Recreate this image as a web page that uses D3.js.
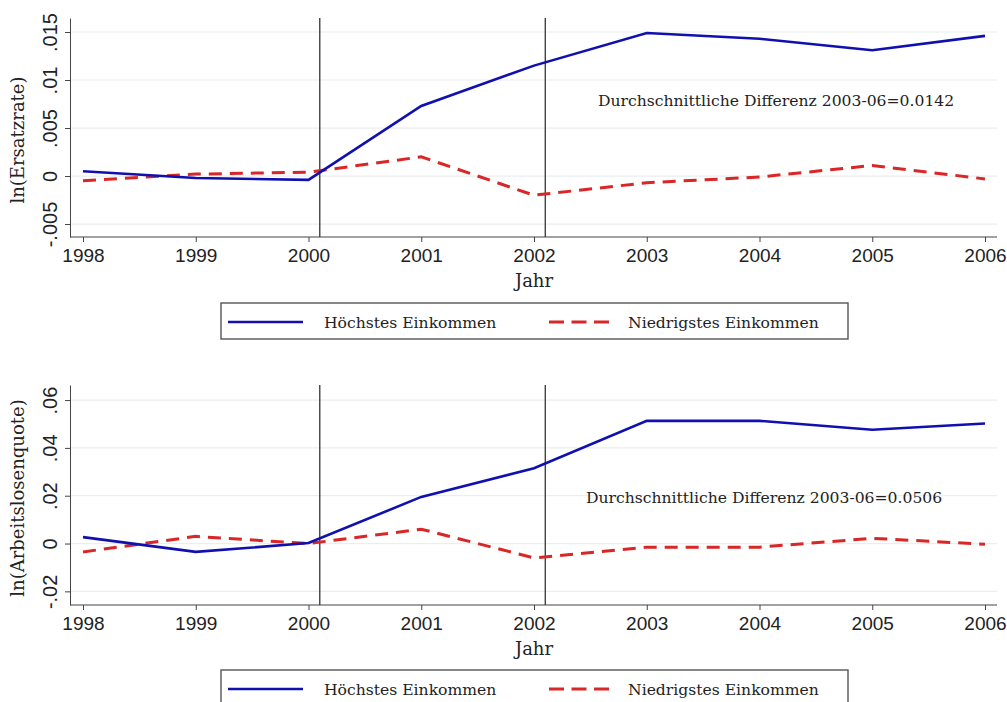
<!DOCTYPE html>
<html>
<head>
<meta charset="utf-8">
<script src="https://cdn.jsdelivr.net/npm/d3@7"></script>
<style>
  body { margin: 0; background: #fff; }
  svg { display: block; }
</style>
</head>
<body>
<div id="chart"></div>
<script>
// Jahre und Werte
let years = [1998, 1999, 2000, 2001, 2002, 2003, 2004, 2005, 2006];

let ersatzHoch = [0.0005, -0.0002, -0.0004, 0.0073, 0.0115, 0.0149, 0.0143, 0.0131, 0.0146];
let ersatzNied = [-0.0005, 0.0002, 0.0004, 0.0020, -0.0020, -0.0007, -0.0001, 0.0011, -0.0003];

let quoteHoch = [0.0027, -0.0035, 0.0002, 0.0195, 0.0315, 0.0513, 0.0513, 0.0476, 0.0502];
let quoteNied = [-0.0035, 0.0030, 0.0000, 0.0060, -0.0060, -0.0015, -0.0015, 0.0022, -0.0003];

let ersatzTicks = [-0.005, 0, 0.005, 0.01, 0.015];
let ersatzTickLabels = ["-.005", "0", ".005", ".01", ".015"];
let quoteTicks = [-0.02, 0, 0.02, 0.04, 0.06];
let quoteTickLabels = ["-.02", "0", ".02", ".04", ".06"];

let reformLines = [2000.1, 2002.1];
let seriesNames = ["Höchstes Einkommen", "Niedrigstes Einkommen"];

let width = 1007;
let height = 702;

let svg = d3.select("#chart")
            .append("svg")
            .attr("width", width)
            .attr("height", height);

let xScale = d3.scaleLinear()
               .domain([1998, 2006])
               .range([83, 985]);

let blue = "#1010b0";
let red = "#d92626";
let serif = "'DejaVu Serif', serif";
let sans = "'Liberation Sans', Arial, sans-serif";

function drawPanel(cfg) {
    let g = svg.append("g");
    let yScale = d3.scaleLinear()
                   .domain(cfg.domain)
                   .range([cfg.bottom, cfg.top]);

    // Gitterlinien
    g.selectAll(".grid")
        .data(cfg.ticks)
        .enter()
        .append("line")
        .attr("x1", 71).attr("x2", 997)
        .attr("y1", d => yScale(d)).attr("y2", d => yScale(d))
        .attr("stroke", "#eaeeee")
        .attr("stroke-width", 1.2);

    // Reformlinien
    g.selectAll(".reform")
        .data(reformLines)
        .enter()
        .append("line")
        .attr("x1", d => xScale(d)).attr("x2", d => xScale(d))
        .attr("y1", cfg.top).attr("y2", cfg.bottom)
        .attr("stroke", "#333")
        .attr("stroke-width", 1.3);

    // Achsen
    let xAxis = d3.axisBottom(xScale)
                  .tickValues(years)
                  .tickFormat(d3.format("d"))
                  .tickSize(5)
                  .tickSizeOuter(0);
    let gx = g.append("g")
              .attr("transform", "translate(0," + cfg.bottom + ")")
              .call(xAxis);
    gx.select(".domain").attr("d", "M70,0H997").attr("stroke", "#444");
    gx.selectAll(".tick line").attr("stroke", "#444");
    gx.selectAll(".tick text")
      .attr("font-family", sans).attr("font-size", 19).attr("fill", "#222").attr("dy", "0.9em");

    let yAxis = d3.axisLeft(yScale)
                  .tickValues(cfg.ticks)
                  .tickFormat((d, i) => cfg.tickLabels[i])
                  .tickSize(5)
                  .tickSizeOuter(0);
    let gy = g.append("g")
              .attr("transform", "translate(70,0)")
              .call(yAxis);
    gy.select(".domain").attr("stroke", "#444");
    gy.selectAll(".tick line").attr("stroke", "#444");
    gy.selectAll(".tick text")
      .attr("font-family", sans).attr("font-size", 20).attr("fill", "#222")
      .attr("x", 0).attr("dy", 0)
      .attr("text-anchor", "middle")
      .attr("transform", "translate(-13,0) rotate(-90)");

    // Linien
    let line = d3.line()
                 .x((d, i) => xScale(years[i]))
                 .y(d => yScale(d));

    g.append("path")
        .datum(cfg.nied)
        .attr("d", line)
        .attr("fill", "none")
        .attr("stroke", red)
        .attr("stroke-width", 3)
        .attr("stroke-dasharray", "13,8");

    g.append("path")
        .datum(cfg.hoch)
        .attr("d", line)
        .attr("fill", "none")
        .attr("stroke", blue)
        .attr("stroke-width", 2.6);

    // Texte
    g.append("text")
        .attr("x", cfg.noteX).attr("y", cfg.noteY)
        .attr("font-family", serif).attr("font-size", 15.6)
        .attr("fill", "#222")
        .text(cfg.note);

    g.append("text")
        .attr("transform", "translate(24," + cfg.labelY + ") rotate(-90)")
        .attr("text-anchor", "middle")
        .attr("font-family", serif).attr("font-size", 18)
        .attr("fill", "#222")
        .text(cfg.label);

    g.append("text")
        .attr("x", 534).attr("y", cfg.bottom + 50)
        .attr("text-anchor", "middle")
        .attr("font-family", serif).attr("font-size", 18)
        .attr("fill", "#222")
        .text("Jahr");

    // Legende
    let lg = g.append("g").attr("transform", "translate(0," + cfg.legendY + ")");
    lg.append("rect")
        .attr("x", 221).attr("y", 0)
        .attr("width", 627).attr("height", 36)
        .attr("fill", "none")
        .attr("stroke", "#555")
        .attr("stroke-width", 1.4);
    lg.append("line")
        .attr("x1", 228).attr("x2", 303).attr("y1", 19).attr("y2", 19)
        .attr("stroke", blue).attr("stroke-width", 2.6);
    lg.append("line")
        .attr("x1", 549).attr("x2", 609).attr("y1", 19).attr("y2", 19)
        .attr("stroke", red).attr("stroke-width", 3)
        .attr("stroke-dasharray", "15,7.5");
    lg.selectAll(".lt")
        .data(seriesNames)
        .enter()
        .append("text")
        .attr("x", (d, i) => i === 0 ? 324 : 628)
        .attr("y", 25)
        .attr("font-family", serif).attr("font-size", 15.6)
        .attr("fill", "#222")
        .text(d => d);
}

drawPanel({
    hoch: ersatzHoch, nied: ersatzNied,
    domain: [-0.00635, 0.01646], top: 18, bottom: 237,
    ticks: ersatzTicks, tickLabels: ersatzTickLabels,
    label: "ln(Ersatzrate)", labelY: 140,
    note: "Durchschnittliche Differenz 2003-06=0.0142", noteX: 598, noteY: 106,
    legendY: 303
});

drawPanel({
    hoch: quoteHoch, nied: quoteNied,
    domain: [-0.0257, 0.0663], top: 385, bottom: 605,
    ticks: quoteTicks, tickLabels: quoteTickLabels,
    label: "ln(Arbeitslosenquote)", labelY: 498,
    note: "Durchschnittliche Differenz 2003-06=0.0506", noteX: 586, noteY: 503,
    legendY: 670
});
</script>
</body>
</html>
